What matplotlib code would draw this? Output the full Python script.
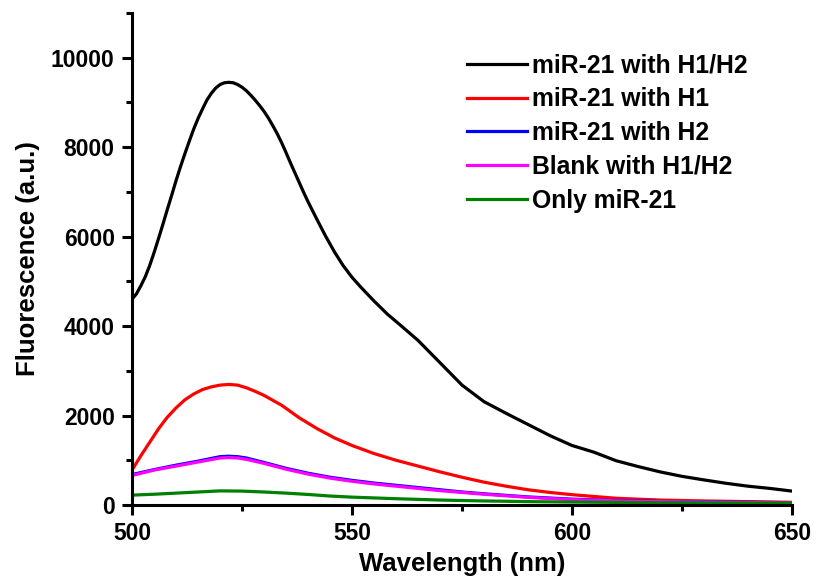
import matplotlib
matplotlib.use('Agg')
import matplotlib.pyplot as plt
from matplotlib.ticker import MultipleLocator

plt.rcParams['font.family'] = ['Liberation Sans', 'DejaVu Sans']
plt.rcParams['font.weight'] = 'bold'

# fluorescence spectra
wl_black = [500, 501, 502, 503, 504, 505, 506, 507, 508, 509, 510, 511, 512, 513, 514, 515,
            516, 517, 518, 519, 520, 521, 522, 523, 524, 525, 526, 527, 528, 529, 530,
            531, 532, 533, 534, 535, 536, 537, 538, 539, 540, 542, 544, 546, 548, 550,
            552, 555, 558, 561, 565, 570, 575, 580, 585, 590, 595,
            600, 605, 610, 615, 620, 625, 630, 635, 640, 645, 650]
f_black = [4600, 4720, 4900, 5100, 5350, 5640, 5950, 6270, 6600, 6920, 7250, 7560, 7850, 8130, 8400, 8640,
           8850, 9050, 9200, 9320, 9400, 9440, 9450, 9440, 9400, 9340, 9260, 9160, 9050, 8930, 8800,
           8650, 8480, 8300, 8100, 7880, 7650, 7430, 7210, 6990, 6780, 6390, 6010, 5660, 5350, 5090,
           4870, 4560, 4270, 4020, 3680, 3180, 2680, 2310, 2050, 1800, 1550,
           1330, 1180, 990, 860, 740, 640, 560, 485, 420, 370, 310]

wl_red = [500, 502, 504, 506, 508, 510, 512, 514, 516, 518, 520, 522, 524, 526, 528,
          530, 534, 538, 542, 546, 550, 555, 560, 565, 570, 575, 580, 585, 590, 595,
          600, 610, 620, 630, 640, 650]
f_red = [780, 1100, 1400, 1700, 1960, 2170, 2350, 2480, 2580, 2640, 2680, 2695, 2680, 2620, 2540,
         2450, 2230, 1950, 1710, 1500, 1330, 1150, 1000, 870, 740, 620, 510, 420, 340, 280,
         230, 150, 110, 90, 75, 60]

wl_mid = [500, 505, 510, 515, 518, 520, 522, 524, 526, 530, 535, 540, 545, 550, 555, 560, 565,
          570, 575, 580, 590, 600, 610, 620, 630, 640, 650]
f_blue = [680, 790, 890, 980, 1040, 1080, 1090, 1080, 1050, 950, 820, 710, 620, 550, 490, 440, 390,
          340, 290, 250, 180, 130, 100, 80, 70, 60, 50]
f_magenta = [660, 780, 870, 960, 1015, 1050, 1060, 1050, 1020, 930, 800, 690, 600, 530, 470, 420, 370,
             320, 280, 240, 170, 120, 90, 75, 65, 55, 45]

wl_green = [500, 505, 510, 515, 520, 525, 530, 535, 540, 545, 550, 560, 570, 580, 590, 600, 620, 650]
f_green = [220, 240, 265, 290, 315, 310, 290, 265, 235, 200, 175, 140, 110, 90, 75, 65, 50, 40]

labels = ["miR-21 with H1/H2", "miR-21 with H1", "miR-21 with H2", "Blank with H1/H2", "Only miR-21"]

fig = plt.figure(figsize=(8.16, 5.85), dpi=100)
ax = fig.add_axes([0.1618, 0.1368, 0.8088, 0.841])

lw = 2.3
ax.plot(wl_black, f_black, color="black", lw=lw, label=labels[0])
ax.plot(wl_red, f_red, color="#ff0000", lw=lw, label=labels[1])
ax.plot(wl_mid, f_blue, color="#0000ff", lw=lw, label=labels[2])
ax.plot(wl_mid, f_magenta, color="#ff00ff", lw=lw, label=labels[3])
ax.plot(wl_green, f_green, color="#008000", lw=lw, label=labels[4])

ax.set_xlim(500, 650)
ax.set_ylim(0, 11000)
ax.xaxis.set_major_locator(MultipleLocator(50))
ax.xaxis.set_minor_locator(MultipleLocator(25))
ax.yaxis.set_major_locator(MultipleLocator(2000))
ax.yaxis.set_minor_locator(MultipleLocator(1000))

for s in ["top", "right"]:
    ax.spines[s].set_visible(False)
for s in ["left", "bottom"]:
    ax.spines[s].set_linewidth(2.2)

ax.tick_params(which="major", direction="out", length=7.5, width=2.2, labelsize=16.5, pad=5)
ax.tick_params(which="minor", direction="out", length=4.5, width=2.2)

ax.set_xlabel("Wavelength (nm)", fontsize=18.5, fontweight="bold", labelpad=5)
ax.set_ylabel("Fluorescence (a.u.)", fontsize=18.5, fontweight="bold", labelpad=8)

ax.legend(loc="upper left", bbox_to_anchor=(0.508, 0.918), frameon=False,
          fontsize=17.8, handlelength=2.4, handletextpad=0.2, labelspacing=0.4,
          borderaxespad=0, borderpad=0)

fig.savefig("out.png", dpi=100)
